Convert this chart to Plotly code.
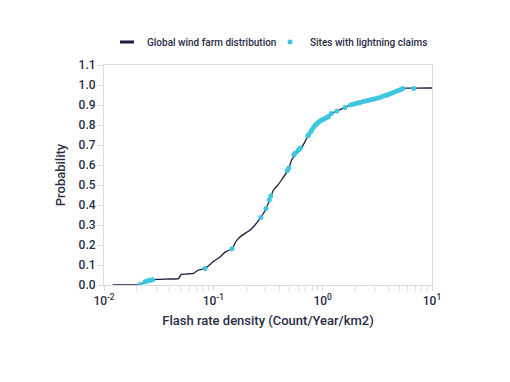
import plotly.graph_objects as go

# Global wind farm distribution (CDF line)
line_x = [0.012, 0.020, 0.0214, 0.0245, 0.028, 0.030, 0.040, 0.048, 0.051, 0.058, 0.066, 0.073, 0.084,
          0.100, 0.115, 0.130, 0.148, 0.160, 0.175, 0.217, 0.232, 0.272, 0.303, 0.330, 0.355, 0.390,
          0.420, 0.486, 0.520, 0.560, 0.620, 0.690, 0.740, 0.850, 1.01, 1.09, 1.20, 1.35, 1.60,
          1.78, 2.36, 3.00, 3.59, 4.50, 5.30, 6.80, 10.0]
line_y = [0.000, 0.001, 0.004, 0.017, 0.025, 0.028, 0.030, 0.032, 0.053, 0.055, 0.058, 0.075, 0.083,
          0.117, 0.140, 0.167, 0.180, 0.215, 0.240, 0.275, 0.290, 0.338, 0.380, 0.430, 0.475, 0.500,
          0.525, 0.578, 0.625, 0.650, 0.675, 0.717, 0.750, 0.790, 0.825, 0.833, 0.858, 0.870, 0.887,
          0.900, 0.917, 0.930, 0.945, 0.962, 0.983, 0.984, 0.985]

# Sites with lightning claims
site_x = [0.0214, 0.0238, 0.0248, 0.0258, 0.0268, 0.0278, 0.084, 0.148, 0.272, 0.303, 0.325, 0.335,
          0.475, 0.49, 0.545, 0.56, 0.60, 0.625, 0.73, 0.745, 0.78, 0.80, 0.83, 0.86, 0.89, 0.92,
          0.95, 0.98, 1.02, 1.06, 1.10, 1.13, 1.20, 1.35, 1.60, 1.80, 1.90, 2.00, 2.10, 2.20, 2.35,
          2.50, 2.60, 2.75, 2.90, 3.00, 3.20, 3.40, 3.60, 3.80, 4.00, 4.20, 4.40, 4.60, 4.80, 5.00,
          5.20, 5.40, 6.80]
site_y = [0.003, 0.016, 0.020, 0.022, 0.024, 0.026, 0.083, 0.181, 0.338, 0.382, 0.425, 0.445,
          0.572, 0.585, 0.650, 0.660, 0.675, 0.685, 0.745, 0.752, 0.768, 0.778, 0.790, 0.800, 0.808,
          0.815, 0.820, 0.825, 0.829, 0.834, 0.839, 0.842, 0.858, 0.870, 0.887, 0.900, 0.904, 0.907,
          0.910, 0.913, 0.917, 0.920, 0.922, 0.926, 0.929, 0.931, 0.935, 0.939, 0.945, 0.949, 0.953,
          0.957, 0.961, 0.966, 0.970, 0.974, 0.978, 0.983, 0.983]

y_ticks = [round(0.1 * i, 1) for i in range(12)]
x_major = [0.01, 0.1, 1, 10]
x_major_labels = ["10<sup>-2</sup>", "10<sup>-1</sup>", "10<sup>0</sup>", "10<sup>1</sup>"]

tickvals = []
ticktext = []
for d, lab in zip(x_major, x_major_labels):
    tickvals.append(d)
    ticktext.append(lab)
    if d < 10:
        for m in range(2, 10):
            tickvals.append(d * m)
            ticktext.append("")

navy = "#1b1f3b"
cyan = "#3ec6df"
axis_col = "#d8dde4"
txt = "#2a2d45"
legend_font = dict(family="Roboto", size=10, color=txt, weight=500)

fig = go.Figure()
fig.add_trace(go.Scatter(x=line_x, y=line_y, mode="lines", name="Global wind farm distribution",
                         showlegend=False,
                         line=dict(color=navy, width=1.3, shape="spline", smoothing=0.6)))
# legend-only entry showing a short thick line symbol
fig.add_trace(go.Scatter(x=[None], y=[None], mode="markers", name="Global wind farm distribution",
                         legend="legend",
                         marker=dict(symbol="line-ew", size=10, color=navy,
                                     line=dict(color=navy, width=3))))
fig.add_trace(go.Scatter(x=site_x, y=site_y, mode="markers", name="Sites with lightning claims",
                         legend="legend2", marker=dict(color=cyan, size=5)))

fig.update_layout(
    width=510, height=382,
    margin=dict(l=96, r=86, t=57, b=105, autoexpand=False),
    paper_bgcolor="white", plot_bgcolor="white",
    font=dict(family="Roboto", size=12, color=txt),
    showlegend=True,
    legend=dict(orientation="h", xref="container", yref="container",
                x=99 / 510, xanchor="left", y=1 - 34 / 382, yanchor="middle",
                font=legend_font, itemwidth=30, bgcolor="rgba(0,0,0,0)"),
    legend2=dict(orientation="h", xref="container", yref="container",
                 x=262 / 510, xanchor="left", y=1 - 34 / 382, yanchor="middle",
                 font=legend_font, itemwidth=30, bgcolor="rgba(0,0,0,0)"),
    xaxis=dict(type="log", range=[-2, 1], tickvals=tickvals, ticktext=ticktext, automargin=False,
               ticks="outside", ticklen=5, tickcolor=axis_col, showline=True, linecolor=axis_col,
               linewidth=1, mirror=True, showgrid=False, zeroline=False,
               tickfont=dict(family="Roboto", size=12, color=txt, weight=500),
               title=dict(text="Flash rate density (Count/Year/km2)", standoff=8,
                          font=dict(family="Roboto", size=13, color=txt, weight=500))),
    yaxis=dict(range=[0, 1.1], tickvals=y_ticks, tickformat=".1f", automargin=False,
               ticks="outside", ticklen=5, tickcolor=axis_col, showline=True, linecolor=axis_col,
               linewidth=1, mirror=True, showgrid=False, zeroline=False,
               tickfont=dict(family="Roboto", size=12, color=txt, weight=500),
               title=dict(text="Probability", standoff=10,
                          font=dict(family="Roboto", size=13, color=txt, weight=500))),
)

fig.write_html("out.html")
